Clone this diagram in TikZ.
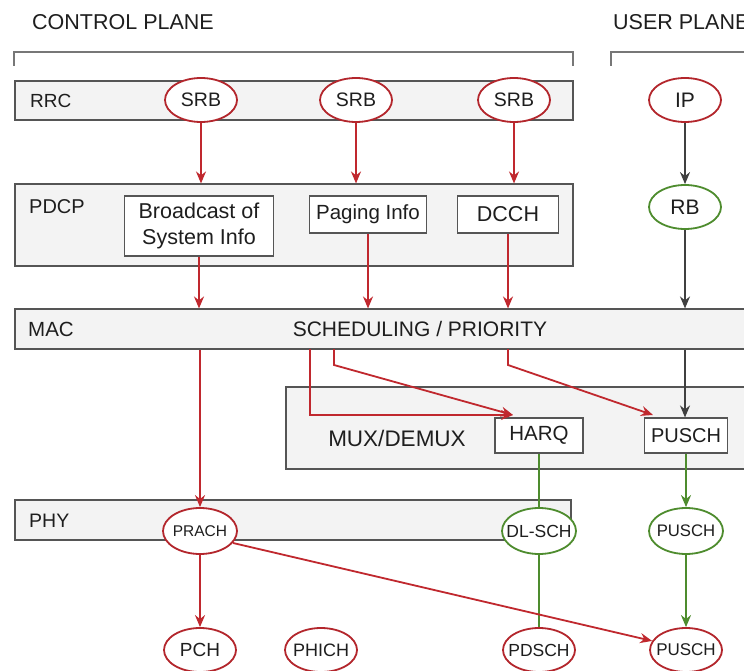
\documentclass[tikz,border=0pt]{standalone}
\usepackage{fontspec}
\setmainfont{Liberation Sans}
\usetikzlibrary{arrows.meta,shapes.geometric}
\definecolor{cred}{HTML}{B3262C}
\definecolor{ared}{HTML}{C0282E}
\definecolor{cgreen}{HTML}{4E8C2E}
\definecolor{barfill}{HTML}{F3F3F3}
\definecolor{barline}{HTML}{555555}
\definecolor{txt}{HTML}{1E1E1E}

\newcommand\fs[1]{\fontsize{#1}{1.2\dimexpr#1pt\relax}\selectfont}
% zero-size, centred label so the oval keeps its own size
\newcommand\oc[1]{\makebox[0pt]{\raisebox{-.5\height}[0pt][0pt]{#1}}}

\begin{document}
\begin{tikzpicture}[x=1pt,y=-1pt,
  every node/.style={text=txt},
  bar/.style={draw=barline, fill=barfill, line width=1.1pt, inner sep=0pt},
  lbl/.style={anchor=west, inner sep=0pt, font=\fs{20}},
  title/.style={anchor=west, inner sep=0pt, font=\fs{21.5}},
  box/.style={draw=barline, fill=white, line width=1.1pt, inner sep=0pt,
    align=center, font=\fs{20.5}},
  oval/.style={ellipse, fill=white, line width=1.8pt, inner sep=0pt,
    text height=0pt, text depth=0pt,
    minimum width=72pt, minimum height=44pt, font=\fs{20}},
  roval/.style={oval, draw=cred},
  goval/.style={oval, draw=cgreen},
  tip/.style={-{Stealth[length=12pt,width=10pt]}},
  redarr/.style={draw=ared, line width=1.8pt, tip},
  blkarr/.style={draw=txt!85, line width=1.8pt, tip},
  grnarr/.style={draw=cgreen, line width=1.8pt, tip},
  grnline/.style={draw=cgreen, line width=1.8pt},
  brace/.style={draw=barline!80, line width=1.2pt}
]
\clip (0,0) rectangle (744,671);
\fill[white] (0,0) rectangle (744,671);

% plane headings and brackets
\node[title] (cp) at (32,22) {CONTROL PLANE};
\node[title] (up) at (613,22) {USER PLANE};
\draw[brace] (14,66) -- (14,52) -- (573,52) -- (573,66);
\draw[brace] (611,66) -- (611,52) -- (760,52);

% layer bars
\node[bar, minimum width=558pt, minimum height=39pt] (rrc)  at (294,100.5) {};
\node[bar, minimum width=558pt, minimum height=82pt] (pdcp) at (294,225) {};
\node[bar, minimum width=745pt, minimum height=40pt] (mac)  at (387.5,329) {};
\node[bar, minimum width=474pt, minimum height=82pt] (mux)  at (523,428) {};
\node[bar, minimum width=556pt, minimum height=40pt] (phy)  at (293,520) {};

\node[lbl, font=\fs{19}] (rrcl)  at (30,101) {RRC};
\node[lbl] (pdcpl) at (29,207) {PDCP};
\node[lbl, font=\fs{20.5}] (macl)  at (28,329) {MAC};
\node[lbl, font=\fs{19.5}] (phyl)  at (29,521) {PHY};
\node[inner sep=0pt, font=\fs{21}] (sched) at (420,329) {SCHEDULING / PRIORITY};
\node[inner sep=0pt, font=\fs{22.5}] (muxl) at (397,438) {MUX/DEMUX};

% RRC entities
\node[roval, font=\fs{19.5}] (srb1) at (201,100) {\oc{SRB}};
\node[roval, font=\fs{19.5}] (srb2) at (356,100) {\oc{SRB}};
\node[roval, font=\fs{19.5}] (srb3) at (514,100) {\oc{SRB}};
\node[roval, font=\fs{21}] (ip)   at (685,100) {\oc{IP}};

% PDCP entities
\node[box, minimum width=149pt, minimum height=60pt, font=\fs{21.5}] (bc) at (199,226) {Broadcast of\\System Info};
\node[box, minimum width=117pt, minimum height=37pt] (pg) at (368,214.5) {Paging Info};
\node[box, minimum width=101pt, minimum height=37pt, font=\fs{21.5}] (dcch) at (508,214.5) {DCCH};
\node[goval, font=\fs{21}] (rb) at (685,207) {\oc{RB}};

% MAC entities
\node[box, minimum width=88pt, minimum height=35pt] (harq) at (539,435.5) {HARQ};
\node[box, minimum width=83pt, minimum height=35pt, font=\fs{20}] (puschm) at (686,435.5) {PUSCH};

% PHY channels
\node[roval, minimum width=74pt, minimum height=46pt, font=\fs{15.5}] (prach) at (200,531) {\oc{PRACH}};
\node[goval, minimum width=74pt, minimum height=46pt, font=\fs{17.5}] (dlsch) at (539,531) {\oc{DL-SCH}};
\node[goval, minimum width=74pt, minimum height=46pt, font=\fs{16.7}] (puschg) at (686,531) {\oc{PUSCH}};
\node[roval, font=\fs{19}] (pch)   at (200,650) {\oc{PCH}};
\node[roval, font=\fs{18}] (phich) at (321,650) {\oc{PHICH}};
\node[roval, font=\fs{17.5}] (pdsch) at (539,650) {\oc{PDSCH}};
\node[roval, font=\fs{17}] (puschr) at (686,650) {\oc{PUSCH}};

% bend and end points of the MAC connectors
\coordinate (m1) at (310,349);
\coordinate (m2) at (334,349);
\coordinate (m2b) at (334,365);
\coordinate (m3) at (508,349);
\coordinate (m3b) at (508,365);
\coordinate (hin) at (513,415);
\coordinate (pin) at (653,415);

% RRC -> PDCP
\draw[redarr] (srb1) -- (srb1 |- pdcp.north);
\draw[redarr] (srb2) -- (srb2 |- pdcp.north);
\draw[redarr] (srb3) -- (srb3 |- pdcp.north);
\draw[blkarr] (ip) -- (rb);

% PDCP -> MAC
\draw[redarr] (bc) -- (bc |- mac.north);
\draw[redarr] (pg) -- (pg |- mac.north);
\draw[redarr] (dcch) -- (dcch |- mac.north);
\draw[blkarr] (rb) -- (rb |- mac.north);

% MAC -> MUX / PHY
\draw[redarr] (mac.south -| prach) -- (prach);
\draw[redarr] (m1) |- (hin);
\draw[redarr] (m2) -- (m2b) -- (hin);
\draw[redarr] (m3) -- (m3b) -- (pin);
\draw[blkarr] (mac.south -| rb) -- (rb |- puschm.north);

% transport / physical channels
\draw[grnline] (harq) -- (dlsch);
\draw[grnline] (dlsch) -- (pdsch);
\draw[grnarr] (puschm) -- (puschg);
\draw[grnarr] (puschg) -- (puschr);
\draw[redarr] (prach) -- (pch);
\draw[redarr] (prach.-20) -- (puschr.165);
\end{tikzpicture}
\end{document}
